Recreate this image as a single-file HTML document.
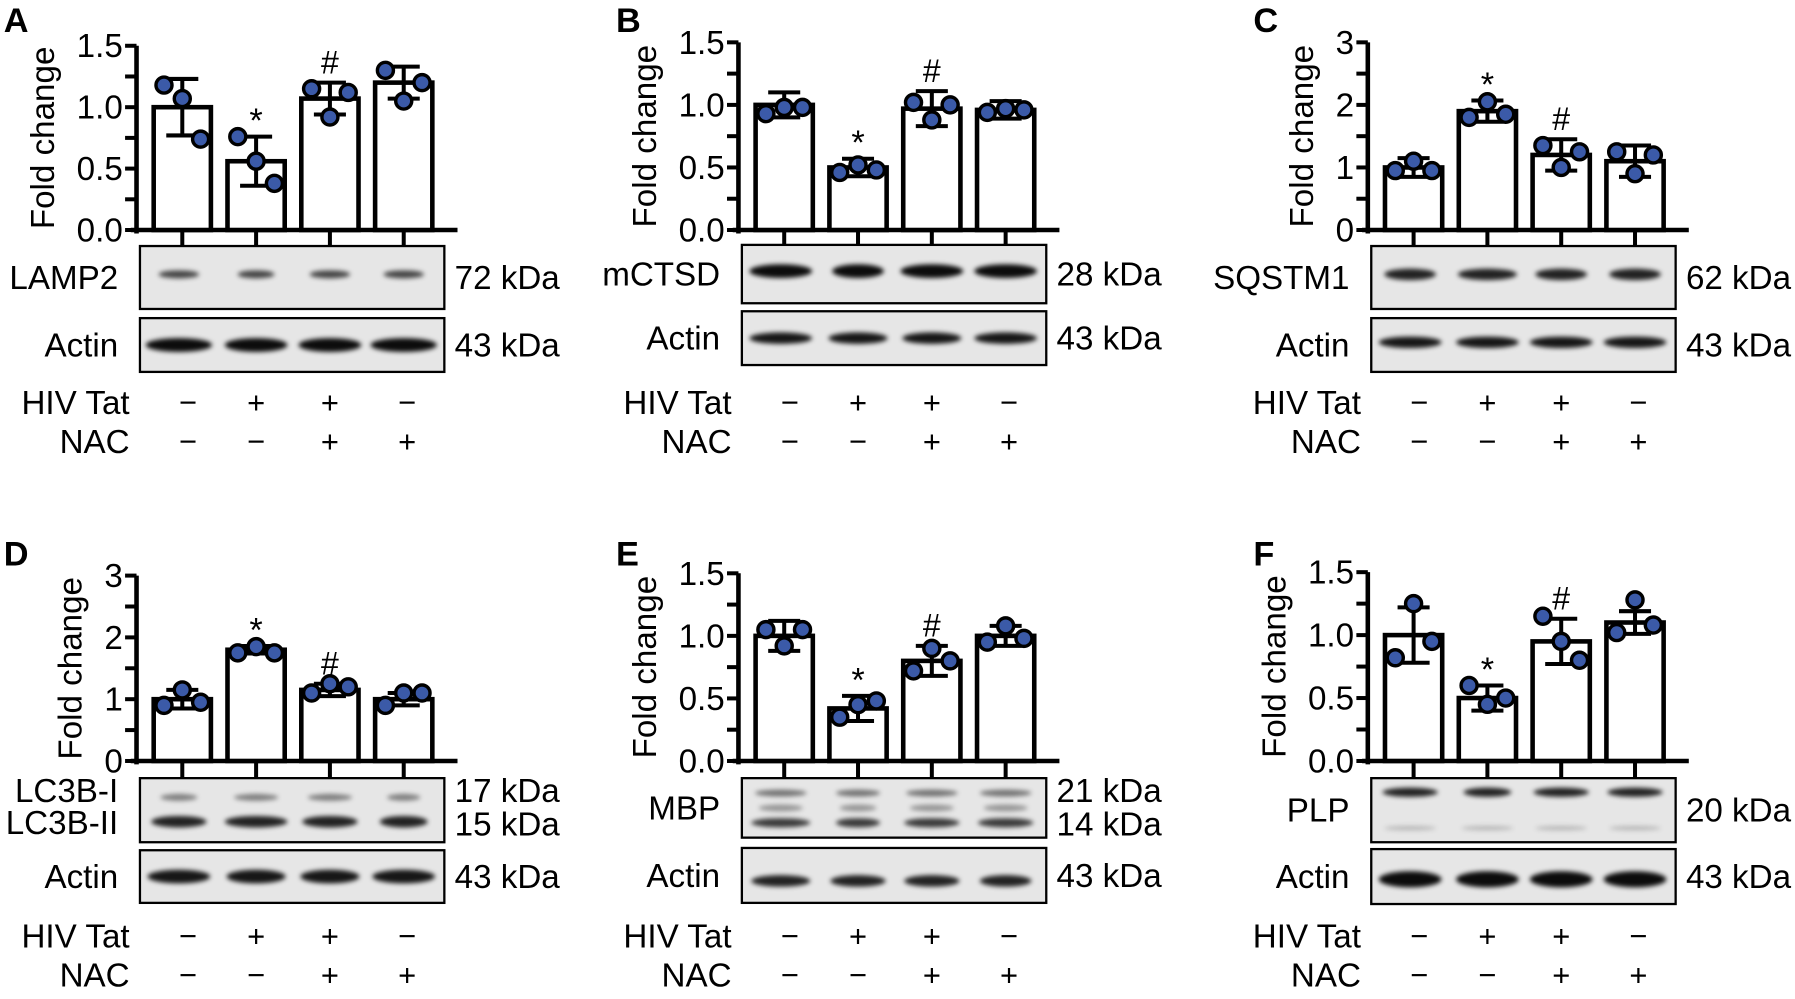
<!DOCTYPE html>
<html><head><meta charset="utf-8"><style>
html,body{margin:0;padding:0;background:#fff;width:1795px;height:999px;overflow:hidden}
svg text{font-family:"Liberation Sans",sans-serif;fill:#000}
</style></head><body>
<svg id="fig" width="1795" height="999" viewBox="0 0 1568 873" xmlns="http://www.w3.org/2000/svg">
<defs>
<filter id="blur" x="-20%" y="-200%" width="140%" height="500%"><feGaussianBlur stdDeviation="2.2"/></filter>
</defs>
</svg>
<script>
// ---- data ----
const groups = ["Ctrl","HIV Tat","HIV Tat + NAC","NAC"];
const hivTat = ["−","+","+","−"];
const nac = ["−","−","+","+"];
const meansA = [1.0,0.56,1.07,1.2];
const sdA = [0.23,0.2,0.13,0.13];
const ptsA = [[1.18,1.07,0.74],[0.76,0.56,0.38],[1.15,0.92,1.12],[1.3,1.05,1.2]];
const meansB = [1.0,0.5,0.97,0.96];
const sdB = [0.1,0.07,0.14,0.07];
const ptsB = [[0.93,0.98,0.98],[0.46,0.52,0.48],[1.02,0.88,1.0],[0.94,0.97,0.96]];
const meansC = [1.0,1.9,1.2,1.1];
const sdC = [0.15,0.17,0.25,0.25];
const ptsC = [[0.95,1.1,0.95],[1.8,2.05,1.85],[1.35,1.0,1.25],[1.25,0.9,1.2]];
const meansD = [1.0,1.8,1.15,1.0];
const sdD = [0.15,0.06,0.1,0.1];
const ptsD = [[0.9,1.15,0.95],[1.75,1.85,1.75],[1.1,1.25,1.2],[0.9,1.1,1.1]];
const meansE = [1.0,0.42,0.8,1.0];
const sdE = [0.12,0.1,0.12,0.08];
const ptsE = [[1.05,0.92,1.05],[0.35,0.45,0.48],[0.72,0.9,0.8],[0.95,1.08,0.98]];
const meansF = [1.0,0.5,0.95,1.1];
const sdF = [0.22,0.1,0.18,0.09];
const ptsF = [[0.82,1.25,0.95],[0.6,0.45,0.5],[1.15,0.95,0.8],[1.02,1.28,1.08]];
const sigMarks = ["","*","#",""];
const ticks15 = ["0.0","0.5","1.0","1.5"];
const ticks3 = ["0","1","2","3"];

// ---- layout ----
const NS="http://www.w3.org/2000/svg";
const svg=document.getElementById('fig');
function mk(tag,attrs,parent){const e=document.createElementNS(NS,tag);for(const k in attrs)e.setAttribute(k,attrs[k]);(parent||svg).appendChild(e);return e;}
function txt(s,x,y,size,anchor,parent,weight){const t=mk('text',{x:x,y:y,'font-size':size,'text-anchor':anchor||'start','font-weight':weight||'normal'},parent);t.textContent=s;return t;}

const panels=[
 {id:'A',means:meansA,sd:sdA,pts:ptsA,ticks:ticks15,max:1.5,ax:119,top:40,zero:201,letterX:3,letterY:28,
  blots:[{y:215,h:55,label:['LAMP2'],kda:['72 kDa'],bands:[{dy:0.45,w:[0.55,0.5,0.55,0.55],d:0.7,t:3.5}]},
         {y:278,h:47,label:['Actin'],kda:['43 kDa'],bands:[{dy:0.5,w:[0.9,0.85,0.85,0.9],d:0.95,t:6}]}],hivY:352,nacY:386},
 {id:'B',means:meansB,sd:sdB,pts:ptsB,ticks:ticks15,max:1.5,ax:645,top:37,zero:201,letterX:538,letterY:28,
  blots:[{y:214,h:51,label:['mCTSD'],kda:['28 kDa'],bands:[{dy:0.45,w:[0.85,0.7,0.85,0.85],d:0.95,t:6}]},
         {y:272,h:47,label:['Actin'],kda:['43 kDa'],bands:[{dy:0.5,w:[0.85,0.8,0.8,0.85],d:0.9,t:5}]}],hivY:352,nacY:386},
 {id:'C',means:meansC,sd:sdC,pts:ptsC,ticks:ticks3,max:3,ax:1195,top:37,zero:201,letterX:1095,letterY:28,
  blots:[{y:215,h:55,label:['SQSTM1'],kda:['62 kDa'],bands:[{dy:0.45,w:[0.7,0.8,0.7,0.7],d:0.85,t:5}]},
         {y:278,h:47,label:['Actin'],kda:['43 kDa'],bands:[{dy:0.45,w:[0.85,0.85,0.85,0.85],d:0.9,t:5}]}],hivY:352,nacY:386},
 {id:'D',means:meansD,sd:sdD,pts:ptsD,ticks:ticks3,max:3,ax:119,top:503,zero:665,letterX:3,letterY:494,
  blots:[{y:680,h:56,label:['LC3B-I','LC3B-II'],kda:['17 kDa','15 kDa'],bands:[{dy:0.3,w:[0.5,0.6,0.6,0.45],d:0.45,t:3},{dy:0.68,w:[0.75,0.85,0.75,0.65],d:0.85,t:5}]},
         {y:743,h:46,label:['Actin'],kda:['43 kDa'],bands:[{dy:0.5,w:[0.85,0.8,0.8,0.85],d:0.9,t:6}]}],hivY:818,nacY:852},
 {id:'E',means:meansE,sd:sdE,pts:ptsE,ticks:ticks15,max:1.5,ax:645,top:501,zero:665,letterX:538,letterY:494,
  blots:[{y:680,h:52,label:['MBP'],kda:['21 kDa','14 kDa'],bands:[{dy:0.25,w:[0.7,0.6,0.7,0.7],d:0.5,t:3},{dy:0.5,w:[0.6,0.5,0.6,0.6],d:0.35,t:3},{dy:0.75,w:[0.8,0.6,0.75,0.75],d:0.75,t:4}]},
         {y:741,h:48,label:['Actin'],kda:['43 kDa'],bands:[{dy:0.6,w:[0.8,0.75,0.75,0.7],d:0.85,t:5}]}],hivY:818,nacY:852},
 {id:'F',means:meansF,sd:sdF,pts:ptsF,ticks:ticks15,max:1.5,ax:1195,top:500,zero:665,letterX:1095,letterY:494,
  blots:[{y:680,h:56,label:['PLP'],kda:['20 kDa'],bands:[{dy:0.22,w:[0.75,0.65,0.75,0.75],d:0.85,t:4},{dy:0.78,w:[0.7,0.7,0.7,0.7],d:0.2,t:2}]},
         {y:742,h:48,label:['Actin'],kda:['43 kDa'],bands:[{dy:0.55,w:[0.85,0.85,0.85,0.85],d:0.95,t:7}]}],hivY:818,nacY:852}
];
const BAR_W=50, SPACING=64.5, FIRST=40, BLOT_L=3, BLOT_W=266, FS=29;

panels.forEach(p=>{
  const g=mk('g',{});
  
  
  const yS=v=>p.zero-(v/p.max)*(p.zero-p.top);
  const xS=i=>p.ax+FIRST+i*SPACING;
  const L=txt(p.id,p.letterX,p.letterY,30,'start',g,'bold');
  
  
  const yAx=mk('line',{x1:p.ax,y1:p.top,x2:p.ax,y2:p.zero+3,stroke:'#000','stroke-width':4},g);
  
  
  const nMinor=(p.ticks.length-1)*2;
  for(let k=0;k<=nMinor;k++){
    const v=p.max*k/nMinor, y=yS(v);
    mk('line',{x1:p.ax-10,y1:y,x2:p.ax,y2:y,stroke:'#000','stroke-width':3.5},g);
  }
  p.ticks.forEach((t,k)=>{
    const v=p.max*k/(p.ticks.length-1);
    const tl=txt(t,p.ax-12,yS(v)+10,FS,'end',g);
    
    
  });
  const off=p.max==3?58:82;
  const yt=txt('Fold change',0,0,FS,'middle',g);
  yt.setAttribute('transform',`translate(${p.ax-off+10},${(p.top+p.zero)/2}) rotate(-90)`);
  
  
  const xAx=mk('line',{x1:p.ax-5,y1:p.zero,x2:xS(3)+BAR_W/2+22,y2:p.zero,stroke:'#000','stroke-width':4},g);
  
  
  p.means.forEach((m,i)=>{
    const cx=xS(i);
    mk('line',{x1:cx,y1:p.zero,x2:cx,y2:p.zero+17,stroke:'#000','stroke-width':3.5},g);
    const bar=mk('rect',{x:cx-BAR_W/2,y:yS(m),width:BAR_W,height:p.zero-yS(m),fill:'#fff',stroke:'#000','stroke-width':4},g);
    
    
    const hi=yS(m+p.sd[i]), lo=yS(m-p.sd[i]);
    const eb=mk('path',{d:`M${cx},${hi}V${lo}M${cx-14},${hi}H${cx+14}M${cx-14},${lo}H${cx+14}`,stroke:'#000','stroke-width':3.5,fill:'none'},g);
    
    
    const offs=[-16,0,16];
    p.pts[i].forEach((v,j)=>{
      const c=mk('circle',{cx:cx+offs[j],cy:yS(v),r:7,fill:'#3b5aa8',stroke:'#000','stroke-width':3},g);
      
      
    });
    if(sigMarks[i]){
      const s=txt(sigMarks[i],cx,hi-(sigMarks[i]=='*'?4:8),sigMarks[i]=='*'?30:28,'middle',g);
      
      
    }
  });
  const bx=p.ax+BLOT_L;
  p.blots.forEach((b,bi)=>{
    const r=mk('rect',{x:bx,y:b.y,width:BLOT_W,height:b.h,fill:'#e6e6e6',stroke:'#000','stroke-width':2},g);
    
    
    b.bands.forEach(bd=>{
      bd.w.forEach((w,i)=>{
        const cx=xS(i)+(i==0?-3:0);
        mk('ellipse',{cx:cx,cy:b.y+b.h*bd.dy,rx:SPACING*w/2,ry:bd.t,fill:`rgba(0,0,0,${bd.d})`,filter:'url(#blur)'},g);
      });
    });
    const mid=b.y+b.h/2;
    b.label.forEach((l,k)=>{
      const yy=b.label.length==1?mid+10:b.y+21+k*28;
      const t=txt(l,p.ax-16,yy,FS,'end',g);
      
      
    });
    b.kda.forEach((l,k)=>{
      const yy=b.kda.length==1?mid+10:b.y+21+k*29;
      const t=txt(l,bx+BLOT_W+9,yy,FS,'start',g);
      
      
    });
  });
  const h=txt('HIV Tat',p.ax-6,p.hivY+10,FS,'end',g);
  
  
  const n=txt('NAC',p.ax-6,p.nacY+10,FS,'end',g);
  
  
  groups.forEach((gname,i)=>{
    const cx=xS(i)+(i==0?5:i==3?3:0);
    const a=txt(hivTat[i],cx,p.hivY+9,27,'middle',g);
    
    
    const c=txt(nac[i],cx,p.nacY+9,27,'middle',g);
    
    
  });
});
</script>
</body></html>
